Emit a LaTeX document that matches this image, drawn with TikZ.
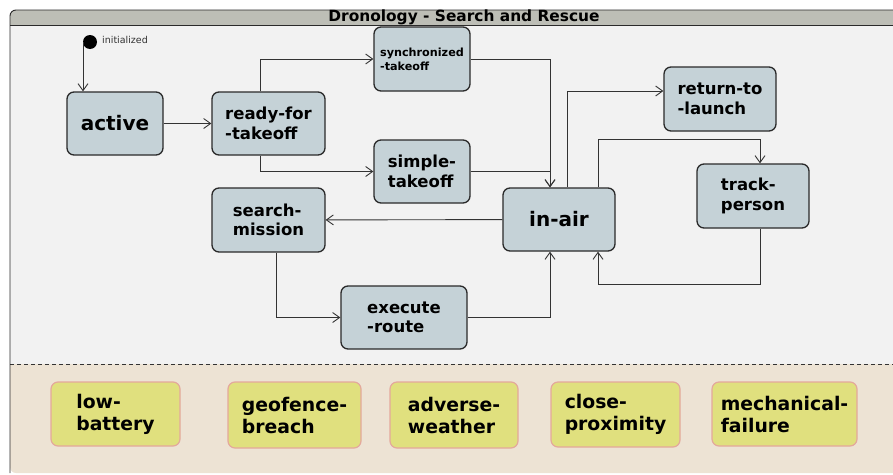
\documentclass[tikz,border=0pt]{standalone}
\usepackage{fontspec}
\setmainfont{DejaVu Sans}
\usetikzlibrary{arrows.meta}
\definecolor{statefill}{HTML}{C5D2D7}
\definecolor{stateline}{HTML}{2A2A2A}
\definecolor{bodybg}{HTML}{F2F2F2}
\definecolor{titlebg}{HTML}{BDBEB6}
\definecolor{lowbg}{HTML}{EDE3D4}
\definecolor{evfill}{HTML}{E0E07E}
\definecolor{evline}{HTML}{E4A89C}
\definecolor{conn}{HTML}{333333}
\tikzset{
  stbox/.style={draw=stateline, line width=1.3pt, fill=statefill, rounded corners=7pt,
    inner sep=0pt, align=left, font=\bfseries\fontsize{16.5}{19.5}\selectfont},
  evbox/.style={draw=evline, line width=1.2pt, fill=evfill, rounded corners=7pt,
    inner sep=0pt, align=left, font=\bfseries\fontsize{18.8}{22}\selectfont},
  arr/.style={draw=conn, line width=0.9pt, -{Straight Barb[length=7pt,width=10pt]}},
}
\begin{document}
\begin{tikzpicture}[x=1pt,y=-1pt]
\useasboundingbox (0,0) rectangle (893,474);
\clip (0,0) rectangle (893,474);
% frame
\fill[lowbg, rounded corners=6pt] (10,10) rectangle (920,473);
\fill[bodybg] (10,25) rectangle (920,364);
\fill[titlebg, rounded corners=6pt] (10,10) rectangle (920,30);
\fill[bodybg] (10,25) rectangle (920,32);
\draw[stateline, line width=0.8pt] (10,25) -- (920,25);
\draw[conn, line width=0.8pt, dashed, dash pattern=on 4pt off 3pt] (10,364) -- (920,364);
\draw[stateline, line width=0.9pt, rounded corners=6pt] (10,473) -- (10,10) -- (920,10);
\node[font=\bfseries\fontsize{15.4}{17}\selectfont, inner sep=0pt] (title) at (464,17.5) {Dronology - Search and Rescue};
% initial
\node[circle, fill=black, minimum size=14pt, inner sep=0pt] (init) at (90,42) {};
\node[anchor=west, font=\fontsize{9.5}{11}\selectfont, inner sep=0pt, text=conn] (initlbl) at (102,40) {initialized};
% states
\node[stbox, minimum width=96pt, minimum height=63pt, font=\bfseries\fontsize{20}{24}\selectfont] (active) at (115,123.5) {active};
\node[stbox, minimum width=113pt, minimum height=63pt] (ready) at (268.5,123.5) {ready-for\\-takeoff};
\node[stbox, minimum width=96pt, minimum height=64pt, font=\bfseries\fontsize{11.2}{14}\selectfont] (sync) at (422,59) {synchronized\\-takeoff};
\node[stbox, minimum width=96pt, minimum height=63pt] (simple) at (422,171.5) {simple-\\takeoff};
\node[stbox, minimum width=112pt, minimum height=63pt, font=\bfseries\fontsize{20}{24}\selectfont] (inair) at (559,219.5) {in-air};
\node[stbox, minimum width=112pt, minimum height=64pt] (rtl) at (720,99) {return-to\\-launch};
\node[stbox, minimum width=112pt, minimum height=64pt] (track) at (753,196) {track-\\person};
\node[stbox, minimum width=113pt, minimum height=64pt] (search) at (268.5,220) {search-\\mission};
\node[stbox, minimum width=126pt, minimum height=63pt] (exec) at (404,317.5) {execute\\-route};
% events
\node[evbox, minimum width=129pt, minimum height=64pt] (lowbat) at (115.5,414) {low-\\battery};
\node[evbox, minimum width=133pt, minimum height=66pt] (geo) at (294.5,415) {geofence-\\breach};
\node[evbox, minimum width=128pt, minimum height=66pt] (adverse) at (454,415) {adverse-\\weather};
\node[evbox, minimum width=129pt, minimum height=65pt] (close) at (615.5,414.5) {close-\\proximity};
\node[evbox, minimum width=145pt, minimum height=64pt] (mech) at (784.5,414) {mechanical-\\failure};
% connectors
\draw[arr] (init) ++(-7,0) -- ([xshift=-32pt]active.north);
\draw[arr] (active) -- (ready);
\draw[arr] ([xshift=-8.5pt]ready.north) |- (sync.west);
\draw[arr] ([xshift=-8.5pt]ready.south) |- (simple.west);
\draw[arr] (sync.east) -| ([xshift=-9pt]inair.north);
\draw[arr] (simple.east) -| ([xshift=-9pt]inair.north);
\draw[arr] ([xshift=8pt]inair.north) |- ([yshift=8pt]rtl.west);
\draw[arr] ([xshift=39pt]inair.north) -- ++(0,-48) -| ([xshift=7pt]track.north);
\draw[arr] ([xshift=7pt]track.south) -- ++(0,56) -| ([xshift=39pt]inair.south);
\draw[arr] (inair) -- (search);
\draw[arr] ([xshift=7.5pt]search.south) |- (exec.west);
\draw[arr] (exec.east) -| ([xshift=-9pt]inair.south);
\end{tikzpicture}
\end{document}
